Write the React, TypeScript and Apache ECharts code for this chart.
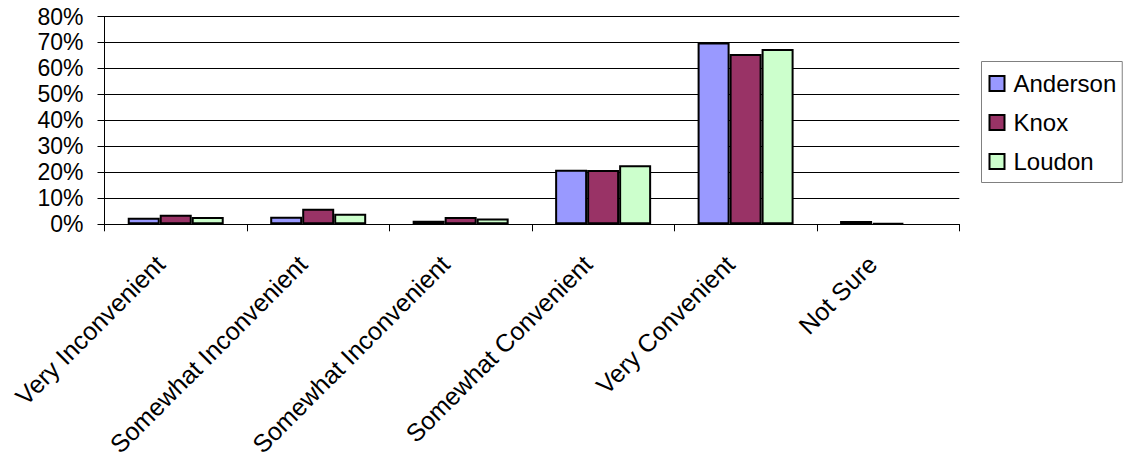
import React, { useEffect, useRef } from "react";
import * as echarts from "echarts";

const categories = [
  "Very Inconvenient",
  "Somewhat Inconvenient",
  "Somewhat Inconvenient",
  "Somewhat Convenient",
  "Very Convenient",
  "Not Sure",
];
const anderson = [2.5, 2.9, 1.4, 21.0, 70.0, 1.3];
const knox = [3.7, 6.0, 2.8, 20.9, 65.6, 0.5];
const loudon = [2.8, 4.1, 2.2, 22.7, 67.5, 0];

const seriesDefs = [
  { name: "Anderson", data: anderson, color: "#9999FF" },
  { name: "Knox", data: knox, color: "#993366" },
  { name: "Loudon", data: loudon, color: "#CCFFCC" },
];

const FONT = "'Liberation Sans', Arial, sans-serif";

export default function App() {
  const ref = useRef<HTMLDivElement>(null);

  useEffect(() => {
    document.body.style.margin = "0";
    const chart = echarts.init(ref.current!, null, { renderer: "svg" });
    chart.setOption({
      animation: false,
      backgroundColor: "#ffffff",
      textStyle: { fontFamily: FONT, color: "#000" },
      grid: {
        left: 104.5,
        right: 169.7,
        top: 16.5,
        bottom: 243.7,
        containLabel: false,
        outerBoundsMode: "none",
      },
      legend: {
        orient: "vertical",
        left: 981.5,
        top: 61.5,
        padding: [10, 6, 9, 7],
        itemGap: 15,
        itemWidth: 15,
        itemHeight: 15,
        icon: "rect",
        borderColor: "#808080",
        borderWidth: 1,
        backgroundColor: "#ffffff",
        textStyle: {
          fontFamily: FONT,
          fontSize: 24,
          color: "#000",
          padding: [0, 0, 0, 4],
        },
        data: seriesDefs.map((s) => s.name),
      },
      xAxis: {
        type: "category",
        data: categories,
        boundaryGap: true,
        axisLine: { show: true, lineStyle: { color: "#000", width: 1 } },
        axisTick: {
          show: true,
          alignWithLabel: false,
          length: 7,
          lineStyle: { color: "#000" },
        },
        axisLabel: {
          interval: 0,
          rotate: 45,
          margin: 20,
          padding: [0, 22, 0, 0],
          fontFamily: FONT,
          fontSize: 25,
          color: "#000",
        },
        splitLine: { show: false },
      },
      yAxis: {
        type: "value",
        min: 0,
        max: 80,
        interval: 10,
        axisLine: { show: true, lineStyle: { color: "#000", width: 1 } },
        axisTick: { show: true, length: 7, lineStyle: { color: "#000" } },
        axisLabel: {
          formatter: "{value}%",
          margin: 21,
          fontFamily: FONT,
          fontSize: 23,
          color: "#000",
        },
        splitLine: { show: true, lineStyle: { color: "#000", width: 1 } },
      },
      series: seriesDefs.map((s) => ({
        name: s.name,
        type: "bar",
        barWidth: 32,
        barGap: "0%",
        itemStyle: { color: s.color, borderColor: "#000", borderWidth: 2 },
        // a zero value leaves no visible bar (no outline either)
        data: s.data.map((v) =>
          v === 0 ? { value: v, itemStyle: { borderWidth: 0 } } : v
        ),
      })),
    });
    return () => chart.dispose();
  }, []);

  return <div ref={ref} style={{ width: 1129, height: 468 }} />;
}
